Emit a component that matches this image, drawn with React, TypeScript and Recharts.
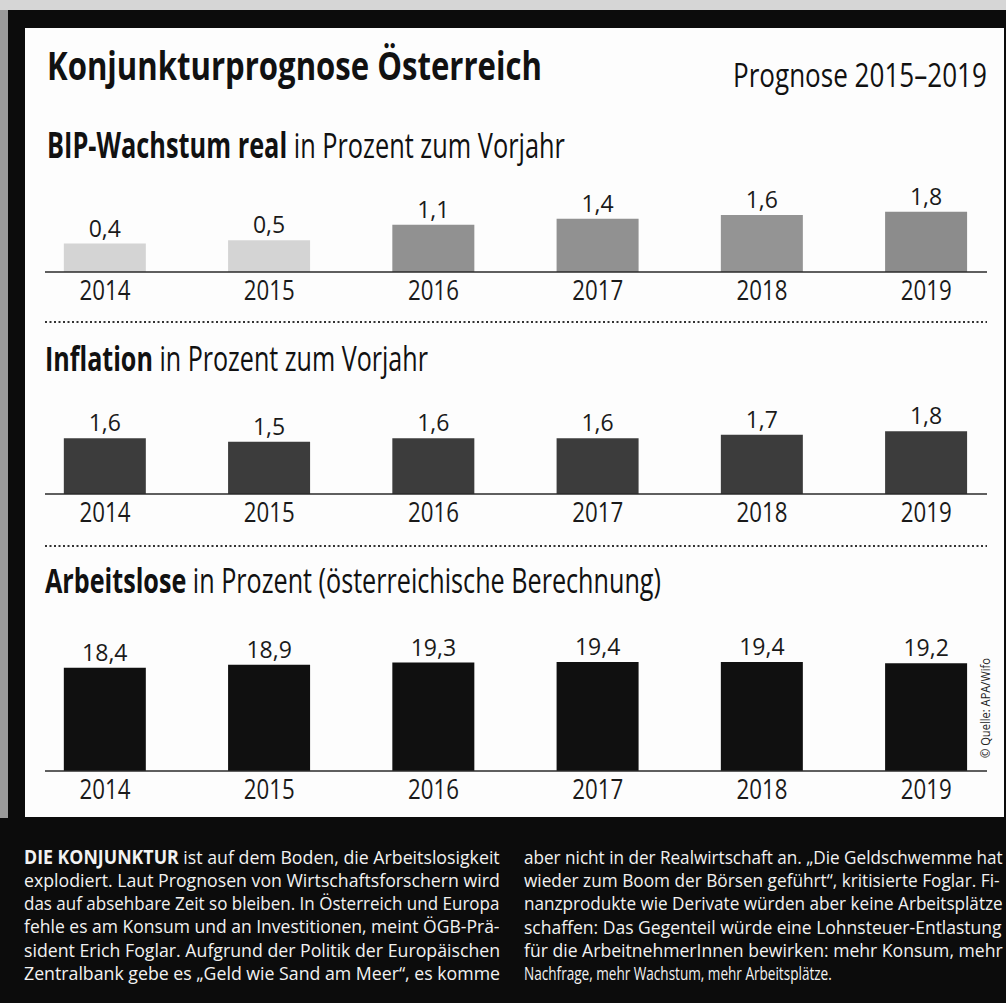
import { useLayoutEffect, useRef, useState } from 'react';
import { BarChart, Bar, XAxis, YAxis, Cell, LabelList } from 'recharts';

const years = ['2014', '2015', '2016', '2017', '2018', '2019'];
const bipValues = [0.4, 0.5, 1.1, 1.4, 1.6, 1.8];
const inflationValues = [1.6, 1.5, 1.6, 1.6, 1.7, 1.8];
const arbeitsloseValues = [18.4, 18.9, 19.3, 19.4, 19.4, 19.2];
const tickIdx = [0, 1, 2, 3, 4, 5];

const bipColors = ['#d4d4d4', '#d4d4d4', '#919191', '#919191', '#949494', '#8c8c8c'];
const inflationColors = ['#3c3c3c', '#3c3c3c', '#3c3c3c', '#3c3c3c', '#3c3c3c', '#3c3c3c'];
const arbeitsloseColors = ['#101010', '#101010', '#101010', '#101010', '#101010', '#101010'];

const leftLines = [
  'explodiert. Laut Prognosen von Wirtschaftsforschern wird',
  'das auf absehbare Zeit so bleiben. In Österreich und Europa',
  'fehle es am Konsum und an Investitionen, meint ÖGB-Prä-',
  'sident Erich Foglar. Aufgrund der Politik der Europäischen',
  'Zentralbank gebe es „Geld wie Sand am Meer“, es komme',
];
const rightLines = [
  'aber nicht in der Realwirtschaft an. „Die Geldschwemme hat',
  'wieder zum Boom der Börsen geführt“, kritisierte Foglar. Fi-',
  'nanzprodukte wie Derivate würden aber keine Arbeitsplätze',
  'schaffen: Das Gegenteil würde eine Lohnsteuer-Entlastung',
  'für die ArbeitnehmerInnen bewirken: mehr Konsum, mehr',
  'Nachfrage, mehr Wachstum, mehr Arbeitsplätze.',
];
const rightWidths = [479, 476, 479, 478, 479, 308];

const FONT = "'Open Sans', 'Noto Sans', sans-serif";
const fmt = (v: number) => v.toFixed(1).replace('.', ',');

// squeezes a text horizontally to a given width (the print uses a condensed face)
function FitText({ x, y, width, anchor = 'start', rotate = 0, children, ...rest }: any) {
  const ref = useRef<SVGTextElement>(null);
  const [s, setS] = useState(1);
  useLayoutEffect(() => {
    if (ref.current) {
      const w = ref.current.getComputedTextLength();
      if (w > 0) setS(width / w);
    }
  }, [width]);
  return (
    <text ref={ref} x={0} y={0} textAnchor={anchor}
      transform={`translate(${x} ${y}) rotate(${rotate}) scale(${s} 1)`} {...rest}>
      {children}
    </text>
  );
}

function YearTick(props: any) {
  const { x, payload, baseY } = props;
  return (
    <FitText x={x} y={baseY} width={51} anchor="middle" fontFamily={FONT} fontSize={27} fill="#1a1a1a">
      {years[payload.value]}
    </FitText>
  );
}

function BarPanel({ top, height, axisHeight, values, colors, domain, scale }: any) {
  const data = values.map((v: number, i: number) => ({ i, v, label: fmt(v) }));
  const baseY = height - axisHeight + 28;
  return (
    <div style={{ position: 'absolute', left: 0, top, width: 1006, height }}>
      <BarChart width={1006} height={height} data={data} margin={{ top: 0, right: 19, left: 45, bottom: 0 }}>
        <XAxis
          type="number"
          dataKey="i"
          domain={[-0.365, 5.37]}
          allowDataOverflow
          ticks={tickIdx}
          interval={0}
          height={axisHeight}
          tickLine={false}
          axisLine={{ stroke: '#2a2a2a', strokeWidth: 1.5 }}
          tick={(p: any) => <YearTick key={p.index} {...p} baseY={baseY} />}
        />
        <YAxis hide type="number" domain={domain} scale={scale} allowDataOverflow />
        <Bar dataKey="v" barSize={82} isAnimationActive={false}>
          {data.map((d: any, i: number) => <Cell key={i} fill={colors[i]} />)}
          <LabelList dataKey="label" position="top" offset={7} fontFamily={FONT} fontSize={23} fill="#1a1a1a" />
        </Bar>
      </BarChart>
    </div>
  );
}

export default function App() {
  return (
    <div style={{ position: 'absolute', left: 0, top: 0, width: 1006, height: 1003, background: '#0c0c0c', overflow: 'hidden' }}>
      {/* scan edges */}
      <div style={{ position: 'absolute', left: 0, top: 0, width: 1006, height: 10, background: '#d6d6d6' }} />
      <div style={{ position: 'absolute', left: 0, top: 10, width: 8, height: 808, background: '#9a9a9a' }} />
      {/* white panel */}
      <div style={{ position: 'absolute', left: 25, top: 28, width: 979, height: 789, background: '#fdfdfd' }} />

      <svg width={1006} height={1003} style={{ position: 'absolute', left: 0, top: 0 }}>
        <FitText x={47} y={80} width={495} fontFamily={FONT} fontWeight={700} fontSize={39} fill="#111">
          Konjunkturprognose Österreich
        </FitText>
        <FitText x={733} y={87} width={254} fontFamily={FONT} fontSize={33} fill="#111">
          Prognose 2015–2019
        </FitText>

        <FitText x={47} y={158} width={518} fontFamily={FONT} fontSize={35} fill="#111">
          <tspan fontWeight={700}>BIP-Wachstum real</tspan> in Prozent zum Vorjahr
        </FitText>
        <FitText x={45} y={371} width={383} fontFamily={FONT} fontSize={34} fill="#111">
          <tspan fontWeight={700}>Inflation</tspan> in Prozent zum Vorjahr
        </FitText>
        <FitText x={45} y={593} width={616} fontFamily={FONT} fontSize={34} fill="#111">
          <tspan fontWeight={700}>Arbeitslose</tspan> in Prozent (österreichische Berechnung)
        </FitText>

        <line x1={45} x2={987} y1={322} y2={322} stroke="#333" strokeWidth={2} strokeDasharray="2 2.5" />
        <line x1={45} x2={987} y1={546} y2={546} stroke="#333" strokeWidth={2} strokeDasharray="2 2.5" />

        <FitText x={990} y={708} rotate={-90} width={100} anchor="middle" fontFamily={FONT} fontSize={13} fill="#222">
          © Quelle: APA/Wifo
        </FitText>

        <FitText x={24} y={864} width={476} fontFamily={FONT} fontSize={19} fill="#f2f2f2">
          <tspan fontWeight={700}>DIE KONJUNKTUR</tspan> ist auf dem Boden, die Arbeitslosigkeit
        </FitText>
        {leftLines.map((t, i) => (
          <FitText key={'l' + i} x={24} y={887 + i * 23.2} width={476} fontFamily={FONT} fontSize={19} fill="#f2f2f2">
            {t}
          </FitText>
        ))}
        {rightLines.map((t, i) => (
          <FitText key={'r' + i} x={524} y={864 + i * 23.2} width={rightWidths[i]} fontFamily={FONT} fontSize={19} fill="#f2f2f2">
            {t}
          </FitText>
        ))}
      </svg>

      <BarPanel top={170} height={150} axisHeight={48} values={bipValues} colors={bipColors}
        domain={[0, 5.14]} scale="sqrt" />
      <BarPanel top={400} height={130} axisHeight={36} values={inflationValues} colors={inflationColors}
        domain={[0, 2.7]} scale="linear" />
      <BarPanel top={630} height={177} axisHeight={36} values={arbeitsloseValues} colors={arbeitsloseColors}
        domain={[0, 25.1]} scale="linear" />
    </div>
  );
}
